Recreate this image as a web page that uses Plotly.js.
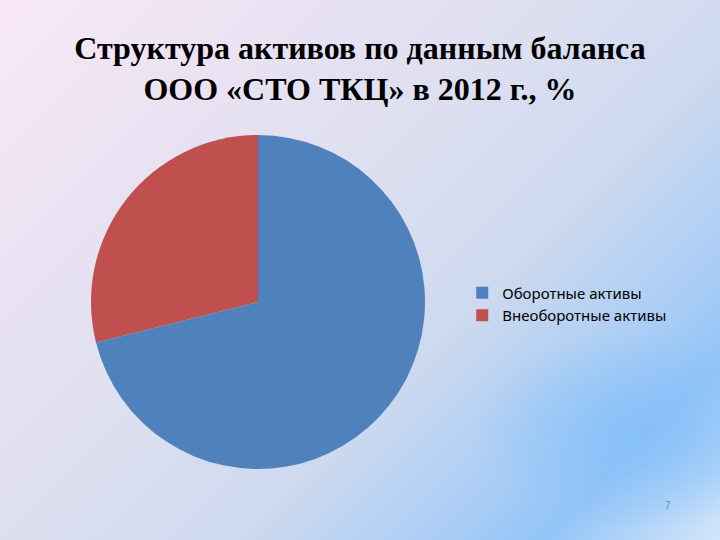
<!DOCTYPE html>
<html>
<head>
<meta charset="utf-8">
<script src="https://cdn.plot.ly/plotly-3.0.1.min.js"></script>
<style>
html, body { margin:0; padding:0; width:720px; height:540px; overflow:hidden; }
body {
  background:
    radial-gradient(ellipse 170px 100px at 640px 430px, rgba(130,190,250,0.75), rgba(130,190,250,0) 100%),
    linear-gradient(135deg, #f9e8f6 0%, #e8e2f2 25%, #dcdff0 45%, #cdd9ef 62%, #a9cdf5 78%, #93c4f7 86%, #d3e6fa 100%);
}
#chart { width:720px; height:540px; }
</style>
</head>
<body>
<div id="chart"></div>
<script>
const categories = ["Оборотные активы", "Внеоборотные активы"];
const values = [71.1, 28.9];
const colors = ["#4F81BD", "#C0504D"];
const titleText = "Структура активов по данным баланса<br>ООО «СТО ТКЦ» в 2012 г., %";
const pageNumber = "7";

const data = [{
  type: "pie",
  labels: categories,
  values: values,
  sort: false,
  direction: "clockwise",
  rotation: 0,
  textinfo: "none",
  hoverinfo: "label+percent",
  marker: { colors: colors, line: { width: 0 } },
  domain: { x: [0.1264, 0.5903], y: [0.1315, 0.75] }
}];

const layout = {
  width: 720,
  height: 540,
  margin: { l: 0, r: 0, t: 0, b: 0 },
  paper_bgcolor: "rgba(0,0,0,0)",
  plot_bgcolor: "rgba(0,0,0,0)",
  title: {
    text: titleText,
    font: { family: "Liberation Serif, Times New Roman, serif", size: 32, color: "#000000", weight: "bold" },
    x: 0.5, xanchor: "center",
    y: 0.891, yanchor: "middle", yref: "paper"
  },
  showlegend: true,
  legend: {
    x: 0.642, xanchor: "left",
    y: 0.437, yanchor: "middle",
    bgcolor: "rgba(0,0,0,0)",
    font: { family: "Noto Sans, Liberation Sans, sans-serif", size: 15, color: "#000000" },
    itemclick: false
  },
  annotations: [{
    text: pageNumber,
    x: 673/720, y: 1 - 513/540, xref: "paper", yref: "paper",
    showarrow: false,
    font: { family: "Liberation Sans, sans-serif", size: 10, color: "#7f8a9a" }
  }]
};

Plotly.newPlot("chart", data, layout, { displayModeBar: false, staticPlot: true });
</script>
</body>
</html>
